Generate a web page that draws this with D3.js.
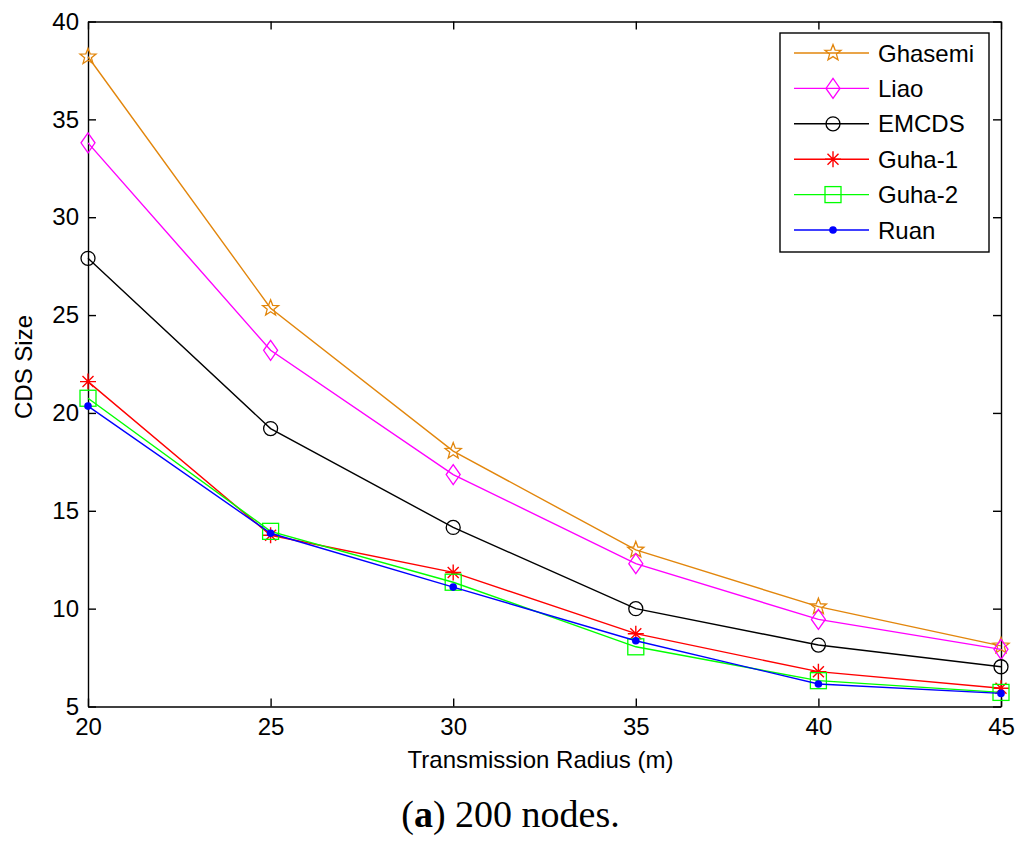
<!DOCTYPE html>
<html lang="en">
<head>
    <meta charset="UTF-8">
    <title>CDS Size vs Transmission Radius</title>
    <style>
        body {
            margin: 0;
            background: #fff;
        }
        .axis text {
            font-family: "Liberation Sans", Arial, sans-serif;
            font-size: 24px;
            fill: #000;
        }
    </style>
</head>
<body>
<div id="chart"></div>
</body>
<script src="https://d3js.org/d3.v7.min.js"></script>
<script>
    // data
    const radius = [20, 25, 30, 35, 40, 45];
    const ghasemi = [38.2, 25.35, 18.05, 13.0, 10.1, 8.1];
    const liao = [33.8, 23.2, 16.85, 12.3, 9.45, 7.92];
    const emcds = [27.9, 19.2, 14.15, 10.0, 8.14, 7.03];
    const guha1 = [21.6, 13.75, 11.85, 8.72, 6.78, 5.93];
    const guha2 = [20.75, 13.95, 11.35, 8.05, 6.32, 5.72];
    const ruan = [20.35, 13.85, 11.1, 8.36, 6.15, 5.67];
    const seriesNames = ["Ghasemi", "Liao", "EMCDS", "Guha-1", "Guha-2", "Ruan"];
    const xTicks = [20, 25, 30, 35, 40, 45];
    const yTicks = [5, 10, 15, 20, 25, 30, 35, 40];

    const W = 1024, H = 841;
    const margin = {top: 21.5, right: 23, bottom: 134.5, left: 88};
    const width = W - margin.left - margin.right,
        height = H - margin.top - margin.bottom;

    const series = [
        {name: seriesNames[0], values: ghasemi, color: "#E2860C", marker: "star"},
        {name: seriesNames[1], values: liao, color: "#FF00FF", marker: "diamond"},
        {name: seriesNames[2], values: emcds, color: "#000000", marker: "circle"},
        {name: seriesNames[3], values: guha1, color: "#FF0000", marker: "asterisk"},
        {name: seriesNames[4], values: guha2, color: "#00FF00", marker: "square"},
        {name: seriesNames[5], values: ruan, color: "#0000FF", marker: "dot"}
    ];

    const svg = d3.select("#chart")
        .append("svg")
        .attr("width", W)
        .attr("height", H);

    const g = svg.append("g")
        .attr("transform", `translate(${margin.left},${margin.top})`);

    const x = d3.scaleLinear().domain([20, 45]).range([0, width]);
    const y = d3.scaleLinear().domain([5, 40]).range([height, 0]);

    // axes, ticks pointing inward like matlab
    const styleAxis = function (sel) {
        sel.select(".domain").attr("stroke", "#000").attr("stroke-width", 1.4);
        sel.selectAll(".tick line").attr("stroke", "#000").attr("stroke-width", 1.4);
    }

    g.append("g").attr("class", "axis")
        .attr("transform", `translate(0,${height})`)
        .call(d3.axisBottom(x).tickValues(xTicks).tickSizeInner(-8).tickSizeOuter(0).tickPadding(11))
        .call(styleAxis);
    g.append("g").attr("class", "axis")
        .call(d3.axisTop(x).tickValues(xTicks).tickSizeInner(-8).tickSizeOuter(0).tickFormat(""))
        .call(styleAxis);
    g.append("g").attr("class", "axis")
        .call(d3.axisLeft(y).tickValues(yTicks).tickSizeInner(-8).tickSizeOuter(0).tickPadding(9))
        .call(styleAxis);
    g.append("g").attr("class", "axis")
        .attr("transform", `translate(${width},0)`)
        .call(d3.axisRight(y).tickValues(yTicks).tickSizeInner(-8).tickSizeOuter(0).tickFormat(""))
        .call(styleAxis);

    // marker shapes
    function drawMarker(sel, type, color) {
        if (type === "circle") {
            sel.append("circle").attr("r", 7).attr("fill", "none").attr("stroke", color).attr("stroke-width", 1.3);
        } else if (type === "square") {
            sel.append("rect").attr("x", -8).attr("y", -8).attr("width", 16).attr("height", 16)
                .attr("fill", "none").attr("stroke", color).attr("stroke-width", 1.3);
        } else if (type === "diamond") {
            sel.append("path").attr("d", "M0,-10 L7,0 L0,10 L-7,0 Z")
                .attr("fill", "none").attr("stroke", color).attr("stroke-width", 1.3);
        } else if (type === "star") {
            const pts = d3.range(10).map(function (i) {
                const r = i % 2 === 0 ? 8.5 : 3.6;
                const a = -Math.PI / 2 + i * Math.PI / 5;
                return [r * Math.cos(a), r * Math.sin(a)];
            });
            sel.append("path").attr("d", "M" + pts.join("L") + "Z")
                .attr("fill", "none").attr("stroke", color).attr("stroke-width", 1.3);
        } else if (type === "asterisk") {
            sel.append("path").attr("d", "M0,-8V8M-8,0H8M-5.5,-5.5L5.5,5.5M-5.5,5.5L5.5,-5.5")
                .attr("stroke", color).attr("stroke-width", 1.4);
        } else if (type === "dot") {
            sel.append("circle").attr("r", 3.8).attr("fill", color);
        }
    }

    const line = d3.line()
        .x(function (d, i) { return x(radius[i]); })
        .y(function (d) { return y(d); });

    series.forEach(function (s) {
        g.append("path")
            .datum(s.values)
            .attr("fill", "none")
            .attr("stroke", s.color)
            .attr("stroke-width", 1.4)
            .attr("d", line);
        g.selectAll(null)
            .data(s.values)
            .join("g")
            .attr("transform", function (d, i) { return `translate(${x(radius[i])},${y(d)})`; })
            .each(function () { drawMarker(d3.select(this), s.marker, s.color); });
    });

    // legend
    const legend = g.append("g").attr("transform", `translate(${780 - margin.left},${33 - margin.top})`);
    legend.append("rect")
        .attr("width", 209).attr("height", 219)
        .attr("fill", "#fff").attr("stroke", "#000").attr("stroke-width", 1.4);
    series.forEach(function (s, i) {
        const row = legend.append("g").attr("transform", `translate(0,${20 + i * 35.4})`);
        row.append("line").attr("x1", 14).attr("x2", 89).attr("stroke", s.color).attr("stroke-width", 1.4);
        drawMarker(row.append("g").attr("transform", "translate(53,0)"), s.marker, s.color);
        row.append("text")
            .attr("x", 98).attr("dy", "0.36em")
            .style("font-family", "'Liberation Sans', Arial, sans-serif")
            .style("font-size", "24px")
            .text(s.name);
    });

    // axis titles
    svg.append("text")
        .attr("x", margin.left + width / 2 - 4).attr("y", 768)
        .attr("text-anchor", "middle")
        .style("font-family", "'Liberation Sans', Arial, sans-serif")
        .style("font-size", "24px")
        .text("Transmission Radius (m)");
    svg.append("text")
        .attr("transform", `translate(32,${margin.top + height / 2 + 3}) rotate(-90)`)
        .attr("text-anchor", "middle")
        .style("font-family", "'Liberation Sans', Arial, sans-serif")
        .style("font-size", "24px")
        .text("CDS Size");

    // caption
    const cap = svg.append("text")
        .attr("x", margin.left + width / 2 - 34).attr("y", 827)
        .attr("text-anchor", "middle")
        .style("font-family", "'Liberation Serif', 'Times New Roman', serif")
        .style("font-size", "38px");
    cap.append("tspan").text("(");
    cap.append("tspan").style("font-weight", "bold").text("a");
    cap.append("tspan").text(") 200 nodes.");
</script>
</html>
